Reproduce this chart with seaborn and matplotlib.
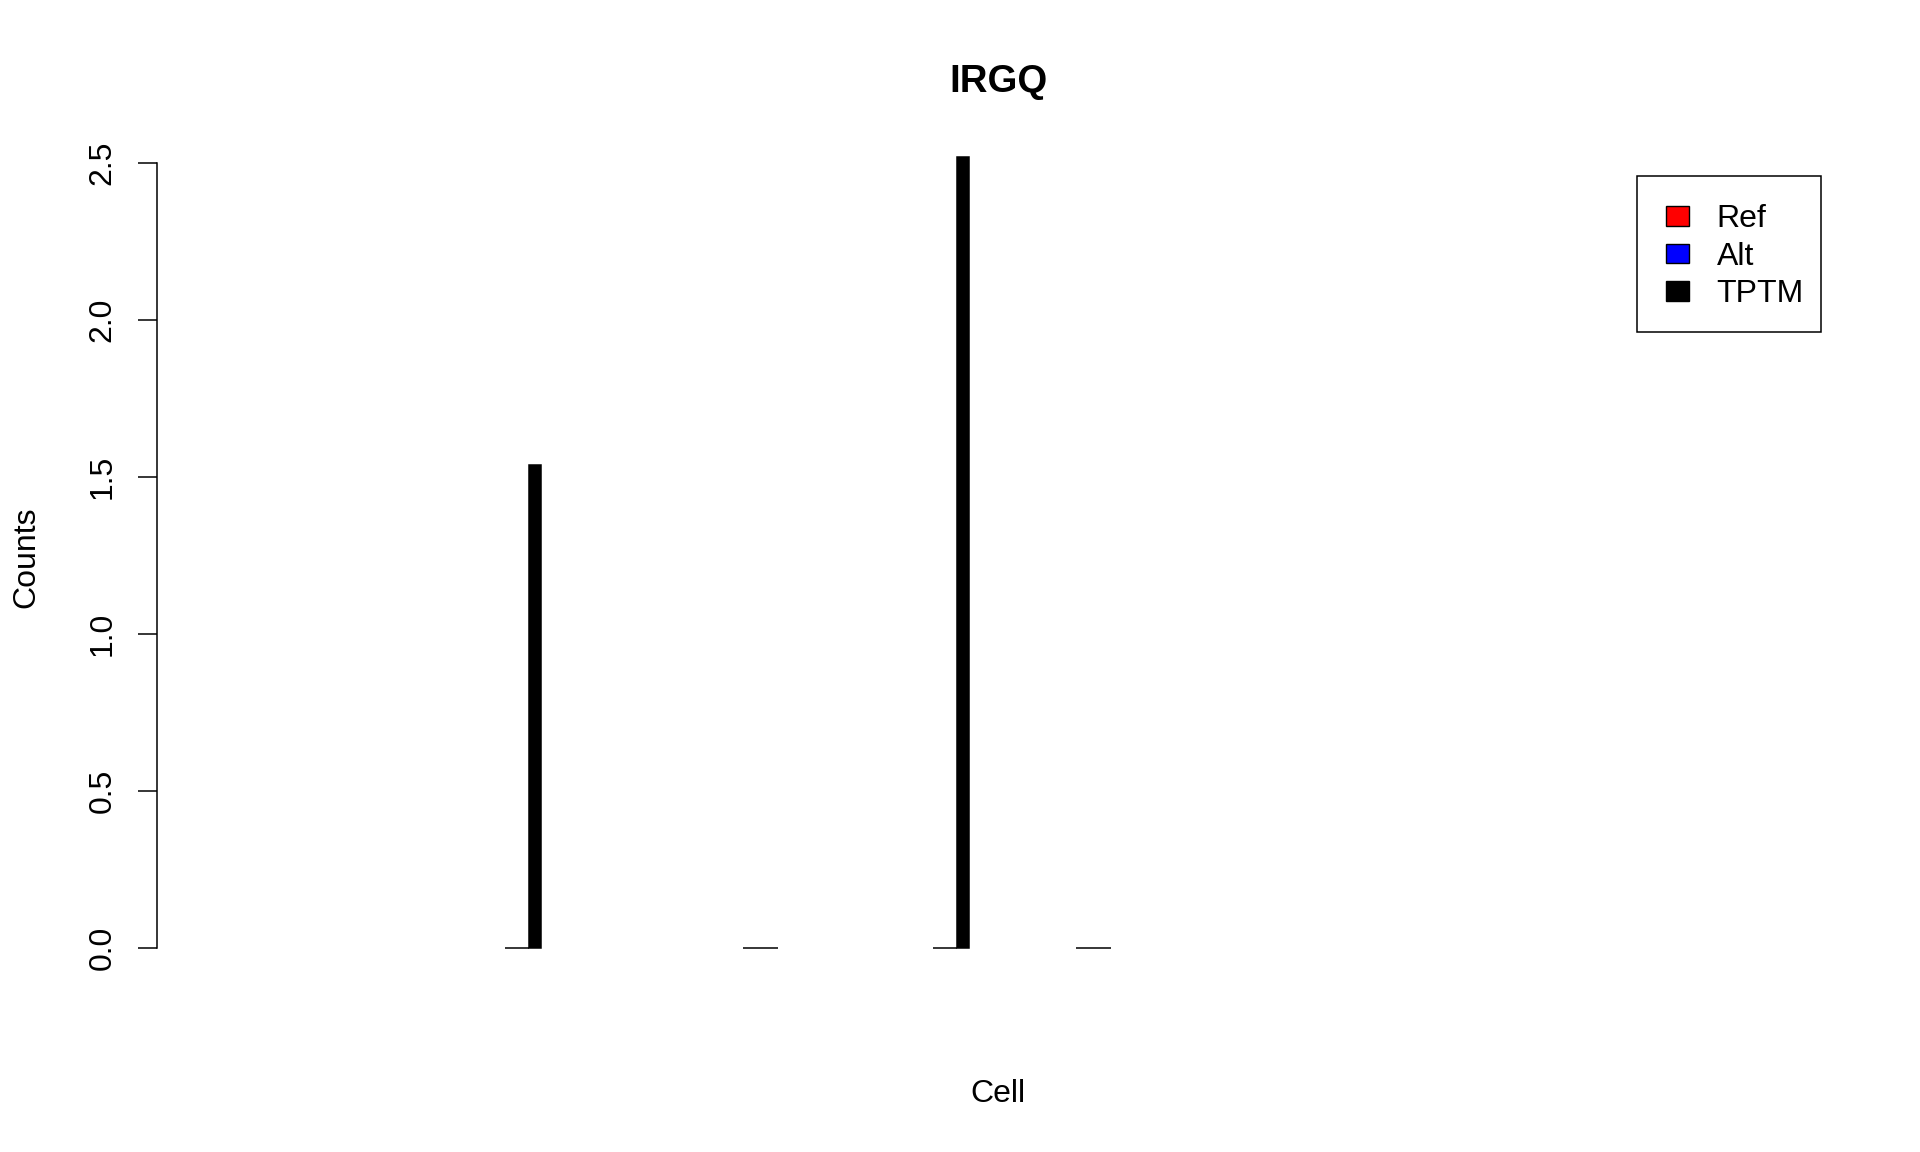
import pandas as pd
import numpy as np
import matplotlib
matplotlib.use("Agg")
import matplotlib.pyplot as plt
from matplotlib.patches import Patch, Rectangle
import seaborn as sns

# 33 cells, most without any reads (NaN -> nothing drawn)
cells = [str(i) for i in range(1, 34)]
ref_counts = [np.nan] * 33
alt_counts = [np.nan] * 33
tptm_counts = [np.nan] * 33
for c, r, a, t in [(7, 0, 0, 1.54), (12, 0, 0, 0), (16, 0, 0, 2.52), (19, 0, 0, 0)]:
    ref_counts[c - 1], alt_counts[c - 1], tptm_counts[c - 1] = r, a, t

series = ['Ref', 'Alt', 'TPTM']
colors = {'Ref': 'red', 'Alt': 'blue', 'TPTM': 'black'}

df = pd.DataFrame({
    'cell': cells * 3,
    'series': np.repeat(series, len(cells)),
    'count': ref_counts + alt_counts + tptm_counts,
})

sns.set_style("white")
plt.rcParams['font.family'] = ['Liberation Sans', 'DejaVu Sans']
plt.rcParams['text.color'] = 'black'
plt.rcParams['ytick.color'] = 'black'
plt.rcParams['axes.labelcolor'] = 'black'

W, H = 1920, 1152
fig = plt.figure(figsize=(W / 100, H / 100), dpi=100)
left, right, top, bottom = 157.3, 1839.4, 150, 956
ax = fig.add_axes([left / W, 1 - bottom / H, (right - left) / W, (bottom - top) / H])

sns.barplot(data=df, x='cell', y='count', hue='series', order=cells,
            hue_order=series, palette=colors, width=0.75, dodge=True,
            errorbar=None, edgecolor='black', linewidth=1.1, legend=False, ax=ax)

# R-like scales
ax.set_xlim(-1.685, 33.685)
y0, ppu = 948.3, 314.0
ax.set_ylim(-(bottom - y0) / ppu, (y0 - top) / ppu)

for s in ['top', 'right', 'bottom']:
    ax.spines[s].set_visible(False)
ax.spines['left'].set_bounds(0, 2.5)
ax.spines['left'].set_linewidth(1.1)
ax.spines['left'].set_color('black')
ax.set_xticks([])
yt = [0, 0.5, 1.0, 1.5, 2.0, 2.5]
ax.set_yticks(yt)
ax.set_yticklabels([f"{v:.1f}" for v in yt], rotation=90, va='center', fontsize=23, color='black')
ax.tick_params(axis='y', direction='out', length=13.7, width=1.1, pad=14.7, left=True, colors='black')

ax.set_xlabel('')
ax.set_ylabel('')
fig.text(998 / W, 1 - 82.5 / H, 'IRGQ', ha='center', va='center', fontsize=27.6, fontweight='bold')
fig.text(998 / W, 1 - 1094.5 / H, 'Cell', ha='center', va='center', fontsize=23)
fig.text(26 / W, 1 - 557 / H, 'Counts', ha='center', va='center', rotation=90, fontsize=23)

# legend, R style: frame drawn separately (asymmetric padding)
handles = [Patch(facecolor=colors[s], edgecolor='black', linewidth=1.0, label=s) for s in series]
leg = ax.legend(handles=handles, loc='center left', bbox_to_anchor=(1665.7 / W, 1 - 256.7 / H),
                bbox_transform=fig.transFigure, fontsize=23, frameon=False,
                handlelength=0.74, handleheight=0.57, handletextpad=0.85,
                labelspacing=0.24, borderpad=0, borderaxespad=0)
fig.patches.append(Rectangle((1637 / W, 1 - 331.7 / H), (1820.7 - 1637) / W, (331.7 - 175.7) / H,
                             transform=fig.transFigure, fill=False, edgecolor='black', linewidth=1.1))

plt.savefig('out.png', dpi=100)
